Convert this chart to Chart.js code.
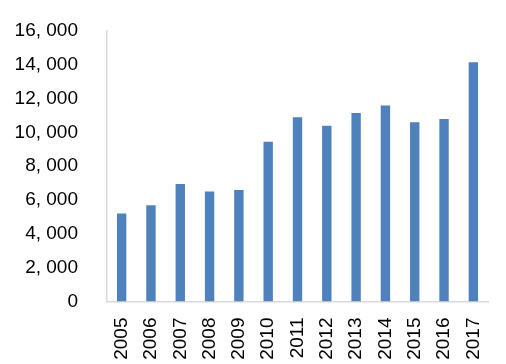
<!DOCTYPE html>
<html>
<head>
<meta charset="utf-8">
<script src="https://cdn.jsdelivr.net/npm/chart.js@4"></script>
<style>
  html, body { margin: 0; padding: 0; background: #fff; }
  #wrap { width: 506px; height: 364px; }
</style>
</head>
<body>
<div id="wrap"><canvas id="chart"></canvas></div>
<script>
const years = ['2005', '2006', '2007', '2008', '2009', '2010', '2011', '2012', '2013', '2014', '2015', '2016', '2017'];
const values = [5200, 5700, 6950, 6500, 6600, 9450, 10900, 10400, 11150, 11600, 10600, 10800, 14150];
const yTicks = [0, 2000, 4000, 6000, 8000, 10000, 12000, 14000, 16000];

const axisGray = '#d9d9d9';

// label style like "16, 000"
function fmt(v) {
    return v.toLocaleString('en-US').replace(',', ', ');
}

const ctx = document.getElementById('chart').getContext('2d');
const chart = new Chart(ctx, {
    type: 'bar',
    data: {
        labels: years,
        datasets: [{
            data: values,
            backgroundColor: '#4f81bd',
            categoryPercentage: 1,
            barPercentage: 0.32
        }]
    },
    options: {
        responsive: true,
        maintainAspectRatio: false,
        animation: false,
        layout: { padding: { top: 31, right: 18, bottom: 0, left: 0 } },
        plugins: { legend: { display: false }, tooltip: { enabled: false } },
        scales: {
            x: {
                grid: { display: false, drawTicks: false },
                border: { color: axisGray, width: 1.5 },
                ticks: {
                    color: '#000',
                    font: { family: 'Liberation Sans', size: 19 },
                    minRotation: 90,
                    maxRotation: 90,
                    padding: 16,
                    autoSkip: false
                },
                afterFit: s => {
                    s.height = 62.5;
                    s.paddingLeft = 0;
                    s.paddingRight = 0;
                }
            },
            y: {
                min: 0,
                max: 16000,
                grid: { display: false, drawTicks: false },
                border: { color: axisGray, width: 1.5 },
                afterBuildTicks: s => { s.ticks = yTicks.map(v => ({ value: v })); },
                ticks: {
                    color: '#000',
                    font: { family: 'Liberation Sans', size: 19 },
                    padding: 29,
                    callback: v => fmt(v)
                },
                afterFit: s => {
                    s.width = 107;
                    s.paddingTop = 0;
                    s.paddingBottom = 0;
                }
            }
        }
    }
});
</script>
</body>
</html>
